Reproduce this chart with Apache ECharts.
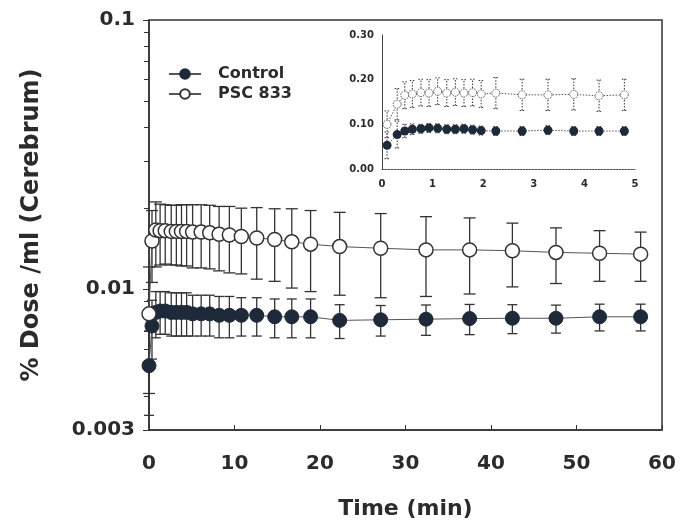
<!DOCTYPE html>
<html>
<head>
<meta charset="utf-8">
<title>Cerebrum dose</title>
<script src="https://cdn.jsdelivr.net/npm/echarts@6/dist/echarts.min.js"></script>
<style>
  html, body { margin: 0; padding: 0; background: #fff; }
  #chart { width: 688px; height: 532px; }
</style>
</head>
<body>
<div id="chart"></div>
<script>
// main panel: time (min) and % dose/ml, mean and SD
const timeMin = [0, 0.35, 0.8, 1.3, 1.9, 2.6, 3.2, 3.8, 4.4, 5.1, 6.1, 7.1, 8.2, 9.4, 10.8, 12.6, 14.7, 16.7, 18.9, 22.3, 27.1, 32.4, 37.5, 42.5, 47.6, 52.7, 57.5];
const controlMean = [0.0052, 0.0073, 0.0082, 0.0083, 0.0083, 0.0082, 0.0082, 0.0082, 0.0082, 0.0081, 0.0081, 0.0081, 0.0080, 0.0080, 0.0080, 0.0080, 0.0079, 0.0079, 0.0079, 0.00766, 0.0077, 0.00774, 0.00778, 0.0078, 0.0078, 0.0079, 0.0079];
const controlSd = [0.0018, 0.0018, 0.0016, 0.0015, 0.0015, 0.0015, 0.0015, 0.0015, 0.0015, 0.0014, 0.0014, 0.0014, 0.0014, 0.0014, 0.0013, 0.0013, 0.0013, 0.0013, 0.0013, 0.0011, 0.0010, 0.0010, 0.0010, 0.00096, 0.00093, 0.0009, 0.0009];
const pscMean = [0.0081, 0.0151, 0.0166, 0.0165, 0.0165, 0.0164, 0.0164, 0.0164, 0.0164, 0.0163, 0.0163, 0.0162, 0.0160, 0.0159, 0.0157, 0.0155, 0.0153, 0.0150, 0.0147, 0.0144, 0.0142, 0.0140, 0.0140, 0.0139, 0.0137, 0.0136, 0.0135];
const pscSd = [0.0040, 0.0045, 0.0045, 0.0042, 0.0041, 0.0041, 0.0041, 0.0042, 0.0042, 0.0043, 0.0043, 0.0043, 0.0043, 0.0044, 0.0043, 0.0046, 0.0046, 0.0049, 0.0049, 0.0049, 0.0049, 0.0046, 0.0044, 0.0037, 0.0032, 0.0029, 0.0028];

// inset panel
const insetTime = [0.1, 0.3, 0.45, 0.6, 0.77, 0.93, 1.1, 1.28, 1.45, 1.62, 1.79, 1.96, 2.25, 2.77, 3.28, 3.79, 4.29, 4.79];
const insetControl = [0.053, 0.077, 0.085, 0.089, 0.090, 0.092, 0.091, 0.089, 0.089, 0.090, 0.088, 0.086, 0.085, 0.085, 0.087, 0.085, 0.085, 0.085];
const insetControlSd = [0.03, 0.03, 0.015, 0.012, 0.01, 0.01, 0.01, 0.01, 0.01, 0.01, 0.01, 0.01, 0.01, 0.01, 0.01, 0.01, 0.01, 0.01];
const insetPsc = [0.10, 0.145, 0.165, 0.168, 0.171, 0.170, 0.174, 0.170, 0.172, 0.170, 0.171, 0.168, 0.170, 0.166, 0.166, 0.167, 0.164, 0.166];
const insetPscSd = [0.03, 0.035, 0.03, 0.03, 0.03, 0.03, 0.03, 0.03, 0.03, 0.03, 0.03, 0.03, 0.035, 0.035, 0.035, 0.035, 0.035, 0.035];

// axis ticks
const xTicks = [0, 10, 20, 30, 40, 50, 60];
const yMinorTicks = [0.003, 0.004, 0.005, 0.006, 0.007, 0.008, 0.009, 0.01, 0.02, 0.03, 0.04, 0.05, 0.06, 0.07, 0.08, 0.09, 0.1];
const insetXTicks = [0, 1, 2, 3, 4, 5];
const insetYTicks = [0, 0.1, 0.2, 0.3];

const ink = '#1e2a3a';
const textColor = '#2b2b2b';
const font = 'DejaVu Sans';

const pair = (xs, ys) => xs.map((x, i) => [x, ys[i]]);
const bars = (xs, ys, sd) => xs.map((x, i) => [x, ys[i] - sd[i], ys[i] + sd[i]]);

// error bar: vertical line with caps
const errorBar = (capHalf, dashed) => (params, api) => {
  const x = api.value(0);
  const lo = api.coord([x, api.value(1)]);
  const hi = api.coord([x, api.value(2)]);
  const style = { stroke: '#333', lineWidth: dashed ? 1 : 1.3, lineDash: dashed ? [1.5, 1.5] : null, fill: null };
  return {
    type: 'group',
    children: [
      { type: 'line', shape: { x1: lo[0], y1: lo[1], x2: hi[0], y2: hi[1] }, style },
      { type: 'line', shape: { x1: hi[0] - capHalf, y1: hi[1], x2: hi[0] + capHalf, y2: hi[1] }, style },
      { type: 'line', shape: { x1: lo[0] - capHalf, y1: lo[1], x2: lo[0] + capHalf, y2: lo[1] }, style }
    ]
  };
};

const chart = echarts.init(document.getElementById('chart'));

const option = {
  animation: false,
  backgroundColor: '#fff',
  textStyle: { fontFamily: font },
  grid: [
    { left: 149, right: 26, top: 20, bottom: 102, show: true, borderColor: '#333', borderWidth: 1.5, backgroundColor: 'transparent' },
    { left: 382, right: 53, top: 35, height: 134 }
  ],
  legend: {
    data: ['Control', 'PSC 833'],
    orient: 'vertical',
    left: 163,
    top: 61,
    itemWidth: 32,
    itemHeight: 12,
    itemGap: 4,
    textStyle: { fontFamily: font, fontWeight: 'bold', fontSize: 16, color: textColor, padding: [0, 0, 0, 12] }
  },
  xAxis: [
    {
      gridIndex: 0, type: 'value', min: 0, max: 60, interval: 10,
      name: 'Time (min)', nameLocation: 'middle', nameGap: 68,
      nameTextStyle: { fontFamily: font, fontWeight: 'bold', fontSize: 22, color: textColor },
      axisLine: { lineStyle: { color: '#333', width: 1.5 } },
      axisTick: { inside: true, length: 5, lineStyle: { color: '#333' }, customValues: xTicks },
      axisLabel: { margin: 24, fontFamily: font, fontWeight: 'bold', fontSize: 20, color: textColor, customValues: xTicks },
      splitLine: { show: false }
    },
    {
      gridIndex: 1, type: 'value', min: 0, max: 5, interval: 1,
      axisLine: { lineStyle: { color: '#555', width: 1, type: [2, 1] } },
      axisTick: { show: false },
      axisLabel: { margin: 10, fontFamily: font, fontWeight: 'bold', fontSize: 10, color: textColor, customValues: insetXTicks },
      splitLine: { show: false }
    }
  ],
  yAxis: [
    {
      gridIndex: 0, type: 'log', logBase: 10, min: 0.003, max: 0.1,
      name: '% Dose /ml (Cerebrum)', nameLocation: 'middle', nameGap: 105, nameRotate: 90,
      nameTextStyle: { fontFamily: font, fontWeight: 'bold', fontSize: 24, color: textColor },
      axisLine: { show: true, lineStyle: { color: '#333', width: 1.5 } },
      axisTick: { show: true, length: 6, lineStyle: { color: '#333' } },
      axisLabel: {
        margin: 14, fontFamily: font, fontWeight: 'bold', fontSize: 20, color: textColor,
        formatter: v => (v < 0.005 ? '0.003' : v < 0.05 ? '0.01' : '0.1')
      },
      splitLine: { show: false }
    },
    {
      gridIndex: 1, type: 'value', min: 0, max: 0.3, interval: 0.1,
      axisLine: { show: true, lineStyle: { color: '#444', width: 1 } },
      axisTick: { show: false },
      axisLabel: { margin: 8, fontFamily: font, fontWeight: 'bold', fontSize: 10, color: textColor, formatter: v => v.toFixed(2), customValues: insetYTicks },
      splitLine: { show: false }
    },
    {
      // minor ticks on the main log axis
      gridIndex: 0, type: 'log', logBase: 10, min: 0.003, max: 0.1, position: 'left',
      axisLine: { show: false },
      axisLabel: { show: false },
      axisTick: { show: true, length: 5, lineStyle: { color: '#333' }, customValues: yMinorTicks },
      splitLine: { show: false }
    }
  ],
  series: [
    {
      name: 'PSC 833 SD', type: 'custom', xAxisIndex: 0, yAxisIndex: 0,
      renderItem: errorBar(6, false), encode: { x: 0, y: [1, 2] },
      data: bars(timeMin, pscMean, pscSd), z: 2, silent: true
    },
    {
      name: 'Control SD', type: 'custom', xAxisIndex: 0, yAxisIndex: 0,
      renderItem: errorBar(5, false), encode: { x: 0, y: [1, 2] },
      data: bars(timeMin, controlMean, controlSd), z: 2, silent: true
    },
    {
      name: 'Control', type: 'line', xAxisIndex: 0, yAxisIndex: 0,
      data: pair(timeMin, controlMean),
      symbol: 'circle', symbolSize: 14, showAllSymbol: true, clip: false,
      itemStyle: { color: ink, borderColor: ink, borderWidth: 1 },
      lineStyle: { color: '#555', width: 1 }, z: 3
    },
    {
      name: 'PSC 833', type: 'line', xAxisIndex: 0, yAxisIndex: 0,
      data: pair(timeMin, pscMean),
      symbol: 'circle', symbolSize: 14, showAllSymbol: true, clip: false,
      itemStyle: { color: '#fff', borderColor: '#333', borderWidth: 1.5 },
      lineStyle: { color: '#555', width: 1 }, z: 3
    },
    {
      name: 'PSC 833 inset SD', type: 'custom', xAxisIndex: 1, yAxisIndex: 1,
      renderItem: errorBar(2.5, true), encode: { x: 0, y: [1, 2] },
      data: bars(insetTime, insetPsc, insetPscSd), z: 2, silent: true
    },
    {
      name: 'Control inset SD', type: 'custom', xAxisIndex: 1, yAxisIndex: 1,
      renderItem: errorBar(2.5, true), encode: { x: 0, y: [1, 2] },
      data: bars(insetTime, insetControl, insetControlSd), z: 2, silent: true
    },
    {
      name: 'Control inset', type: 'line', xAxisIndex: 1, yAxisIndex: 1,
      data: pair(insetTime, insetControl),
      symbol: 'circle', symbolSize: 9, showAllSymbol: true,
      itemStyle: { color: ink },
      lineStyle: { color: '#555', width: 1, type: [1.5, 1.5] }, z: 3
    },
    {
      name: 'PSC 833 inset', type: 'line', xAxisIndex: 1, yAxisIndex: 1,
      data: pair(insetTime, insetPsc),
      symbol: 'circle', symbolSize: 8, showAllSymbol: true,
      itemStyle: { color: '#fff', borderColor: '#555', borderWidth: 1, borderType: [1.5, 1] },
      lineStyle: { color: '#555', width: 1, type: [1.5, 1.5] }, z: 3
    }
  ]
};

chart.setOption(option);
</script>
</body>
</html>
